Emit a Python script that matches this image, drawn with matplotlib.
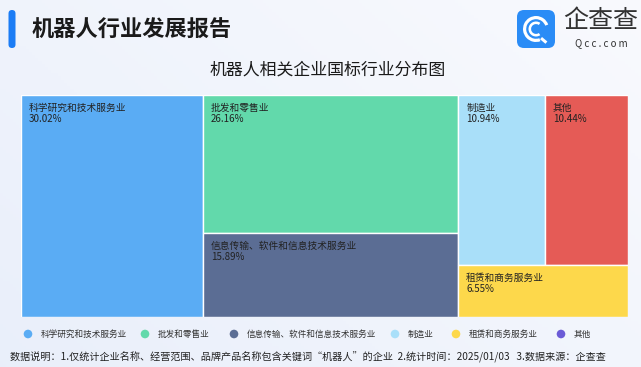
import matplotlib
matplotlib.use("Agg")
import matplotlib.pyplot as plt
import numpy as np
from matplotlib.patches import Rectangle, FancyBboxPatch, Circle, Wedge

plt.rcParams['font.family'] = ['Noto Sans CJK SC', 'DejaVu Sans']

# ---- data ----
categories = ["科学研究和技术服务业", "批发和零售业", "信息传输、软件和信息技术服务业",
              "制造业", "租赁和商务服务业", "其他"]
shares = [30.02, 26.16, 15.89, 10.94, 6.55, 10.44]
colors = ["#5aacf4", "#62d9ab", "#5b6d94", "#a9dff9", "#fdd84b", "#e55b56"]
legend_colors = ["#5aacf4", "#62d9ab", "#5b6d94", "#a9dff9", "#fdd84b", "#6b5bd6"]
title = "机器人相关企业国标行业分布图"
header = "机器人行业发展报告"
footer = "数据说明：1.仅统计企业名称、经营范围、品牌产品名称包含关键词“机器人”的企业  2.统计时间：2025/01/03   3.数据来源：企查查"

# treemap structure: columns of rows of items (indices into categories)
structure = [[[0]], [[1], [2]], [[3, 5], [4]]]

W, H = 641, 367
fig = plt.figure(figsize=(W / 100, H / 100), dpi=100)

# background gradient
bg = fig.add_axes([0, 0, 1, 1])
bg.set_axis_off()
gx = np.linspace(0, 1, 200)
gy = np.linspace(0, 1, 120)
X, Y = np.meshgrid(gx, gy)
c0 = np.array([0.915, 0.937, 0.982])
c1 = np.array([0.975, 0.98, 0.995])
t = np.clip(0.6 * X + 0.4 * (1 - Y), 0, 1)[..., None]
img = c0 * (1 - t) + c1 * t
bg.imshow(img, extent=[0, W, H, 0], aspect='auto', zorder=0)
bg.set_xlim(0, W)
bg.set_ylim(H, 0)

# header bar
bg.add_patch(FancyBboxPatch((8.5, 10), 7, 38, boxstyle="round,pad=0,rounding_size=3.5",
                            fc="#1b7cf5", ec="none", zorder=2))
bg.text(32, 30, header, fontsize=16, fontweight='bold', color="#1a1a1a",
        va='center', ha='left', zorder=3)

# logo
bg.add_patch(FancyBboxPatch((517, 10), 38, 38, boxstyle="round,pad=0,rounding_size=7",
                            fc="#2a8cf6", ec="none", zorder=2))
bg.add_patch(Wedge((536, 29), 13, 70, 360 - 20, width=3.2, fc="white", ec="none", zorder=3))
bg.add_patch(Wedge((536, 29), 7.5, 55, 305, width=2.6, fc="white", ec="none", zorder=3))
bg.add_patch(Rectangle((542, 37), 7, 3, angle=40, fc="white", ec="none", zorder=3))
bg.text(601, 21, "企查查", fontsize=18, color="#333333", ha='center', va='center', zorder=3)
bg.text(601, 43, "Q c c . c o m", fontsize=7, color="#333333", ha='center', va='center', zorder=3)

# chart title
bg.text(328, 70, title, fontsize=12.2, color="#1a1a1a", ha='center', va='center', zorder=3)

# treemap axes
L, R, T, B = 21, 628, 95, 317
ax = fig.add_axes([L / W, 1 - B / H, (R - L) / W, (B - T) / H])
ax.set_xlim(0, 1)
ax.set_ylim(1, 0)
ax.set_axis_off()

total = sum(shares)
x0 = 0.0
for col in structure:
    col_sum = sum(shares[i] for row in col for i in row)
    cw = col_sum / total
    y0 = 0.0
    for row in col:
        row_sum = sum(shares[i] for i in row)
        rh = row_sum / col_sum
        xx = x0
        for i in row:
            iw = cw * shares[i] / row_sum
            ax.add_patch(Rectangle((xx, y0), iw, rh, fc=colors[i], ec="white", lw=1.0))
            ax.annotate(f"{categories[i]}\n{shares[i]:.2f}%", (xx, y0),
                        xytext=(5.5, -5.5), textcoords='offset points',
                        fontsize=7, color="#222222", ha='left', va='top',
                        linespacing=1.2)
            xx += iw
        y0 += rh
    x0 += cw

# legend
lx = [28, 145, 234, 395, 456, 561]
for k, (cat, c) in enumerate(zip(categories, legend_colors)):
    bg.add_patch(Circle((lx[k], 334), 4.3, fc=c, ec="none", zorder=3))
    bg.text(lx[k] + 13, 334.5, cat, fontsize=6.2, color="#333333", ha='left', va='center', zorder=3)

# footer
bg.text(10, 357, footer, fontsize=7.25, color="#222222", ha='left', va='center', zorder=3)

fig.savefig("out.png", dpi=100)
